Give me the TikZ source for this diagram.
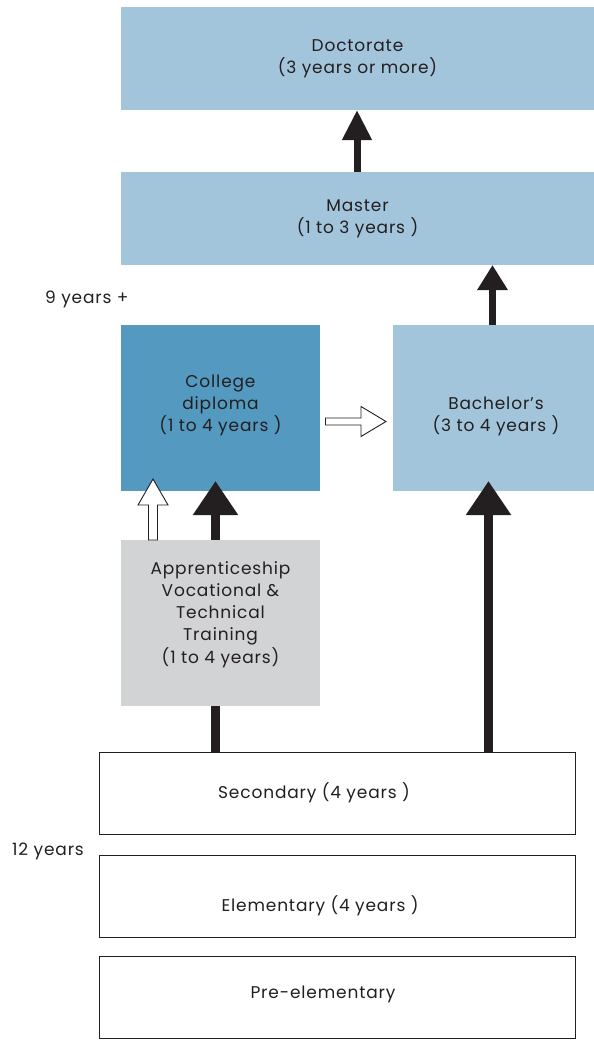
\documentclass[tikz,border=0pt]{standalone}
\usepackage{fontspec}
\setmainfont{Poppins}[LetterSpace=5]
\usetikzlibrary{arrows.meta,calc}
\definecolor{lightb}{HTML}{A3C5DC}
\definecolor{darkb}{HTML}{5499BF}
\definecolor{greyb}{HTML}{D2D3D5}
\definecolor{ink}{HTML}{231F20}
\newcommand{\shiftv}[2]{\raisebox{#1}[\height][\depth]{#2}}
\tikzset{
  box/.style={inner sep=0pt, outer sep=0pt, align=center, text=ink, font=\fontsize{17}{22}\selectfont},
  lbox/.style={box, fill=lightb},
  wbox/.style={box, draw=ink, line width=1pt, fill=white},
  blk/.style={draw=ink, line width=#1},
  hollow/.style={draw=ink, fill=white, line width=0.9pt, line join=miter},
  lbl/.style={anchor=west, inner sep=0pt, text=ink, font=\fontsize{17}{22}\selectfont},
}
\begin{document}
\begin{tikzpicture}[x=1pt,y=-1pt]
\useasboundingbox (0,0) rectangle (594,1041);
% boxes
\node[lbox, minimum width=473, minimum height=103] (doc) at (357.5,58.5) {Doctorate\\(3 years or more)};
\node[lbox, minimum width=473, minimum height=93] (mas) at (357.5,218.5) {Master\\(1 to 3 years )};
\node[box, fill=darkb, minimum width=199, minimum height=166] (col) at (220.5,408) {\shiftv{3pt}{\begin{tabular}{@{}c@{}}College\\diploma\\(1 to 4 years )\end{tabular}}};
\node[lbox, minimum width=201, minimum height=166] (bac) at (493.5,408) {\hspace*{5pt}\shiftv{-8pt}{\begin{tabular}{@{}c@{}}Bachelor’s\\(3 to 4 years )\end{tabular}}};
\node[box, fill=greyb, minimum width=199, minimum height=166] (app) at (220.5,623) {\shiftv{8.5pt}{\begin{tabular}{@{}c@{}}Apprenticeship\\Vocational \&\\Technical\\Training\\[1pt](1 to 4 years)\end{tabular}}};
\node[wbox, minimum width=476, minimum height=82] (sec) at (337,793) {\hspace*{-46pt}Secondary (4 years )};
\node[wbox, minimum width=476, minimum height=82] (ele) at (337,896) {\hspace*{-34pt}\shiftv{-10pt}{Elementary (4 years )}};
\node[wbox, minimum width=476, minimum height=82] (pre) at (337,997) {\hspace*{-28pt}\shiftv{3pt}{Pre-elementary}};
% side labels
\node[lbl] (nine) at (45,299) {9 years +};
\node[lbl] (twelve) at (12,851) {12 years};
% black arrows
\draw[blk=7pt, -{Triangle[length=30pt,width=28pt]}] (mas.north -| 357,0) -- (doc.south -| 357,0);
\draw[blk=7pt, -{Triangle[length=25pt,width=29pt]}] (bac.north -| 492.5,0) -- (mas.south -| 492.5,0);
\draw[blk=9pt, -{Triangle[length=34pt,width=43pt]}, shorten >=-10pt] (sec.north -| 488.5,0) -- (bac.south -| 488.5,0);
\draw[blk=9pt] (sec.north -| 215.5,0) -- (app.south -| 215.5,0);
\draw[blk=9pt, -{Triangle[length=34pt,width=43pt]}, shorten >=-10pt] (app.north -| 215.5,0) -- (col.south -| 215.5,0);
% hollow arrows
\coordinate (va) at (app.north -| 153,0);
\coordinate (vb) at ($(col.south -| 153,0)+(0,-12)$);
\draw[hollow] ($(va)+(-4.5,0)$) -- ($(vb)+(-4.5,26)$) -- ($(vb)+(-15,26)$) -- (vb) -- ($(vb)+(15,26)$) -- ($(vb)+(4.5,26)$) -- ($(va)+(4.5,0)$) -- cycle;
\coordinate (ha) at ($(col.east |- 0,421.5)+(5.5,0)$);
\coordinate (hb) at ($(bac.west |- 0,421.5)+(-7,0)$);
\draw[hollow] ($(ha)+(0,-3.5)$) -- ($(hb)+(-25,-3.5)$) -- ($(hb)+(-25,-15)$) -- (hb) -- ($(hb)+(-25,15)$) -- ($(hb)+(-25,3.5)$) -- ($(ha)+(0,3.5)$) -- cycle;
\end{tikzpicture}
\end{document}
